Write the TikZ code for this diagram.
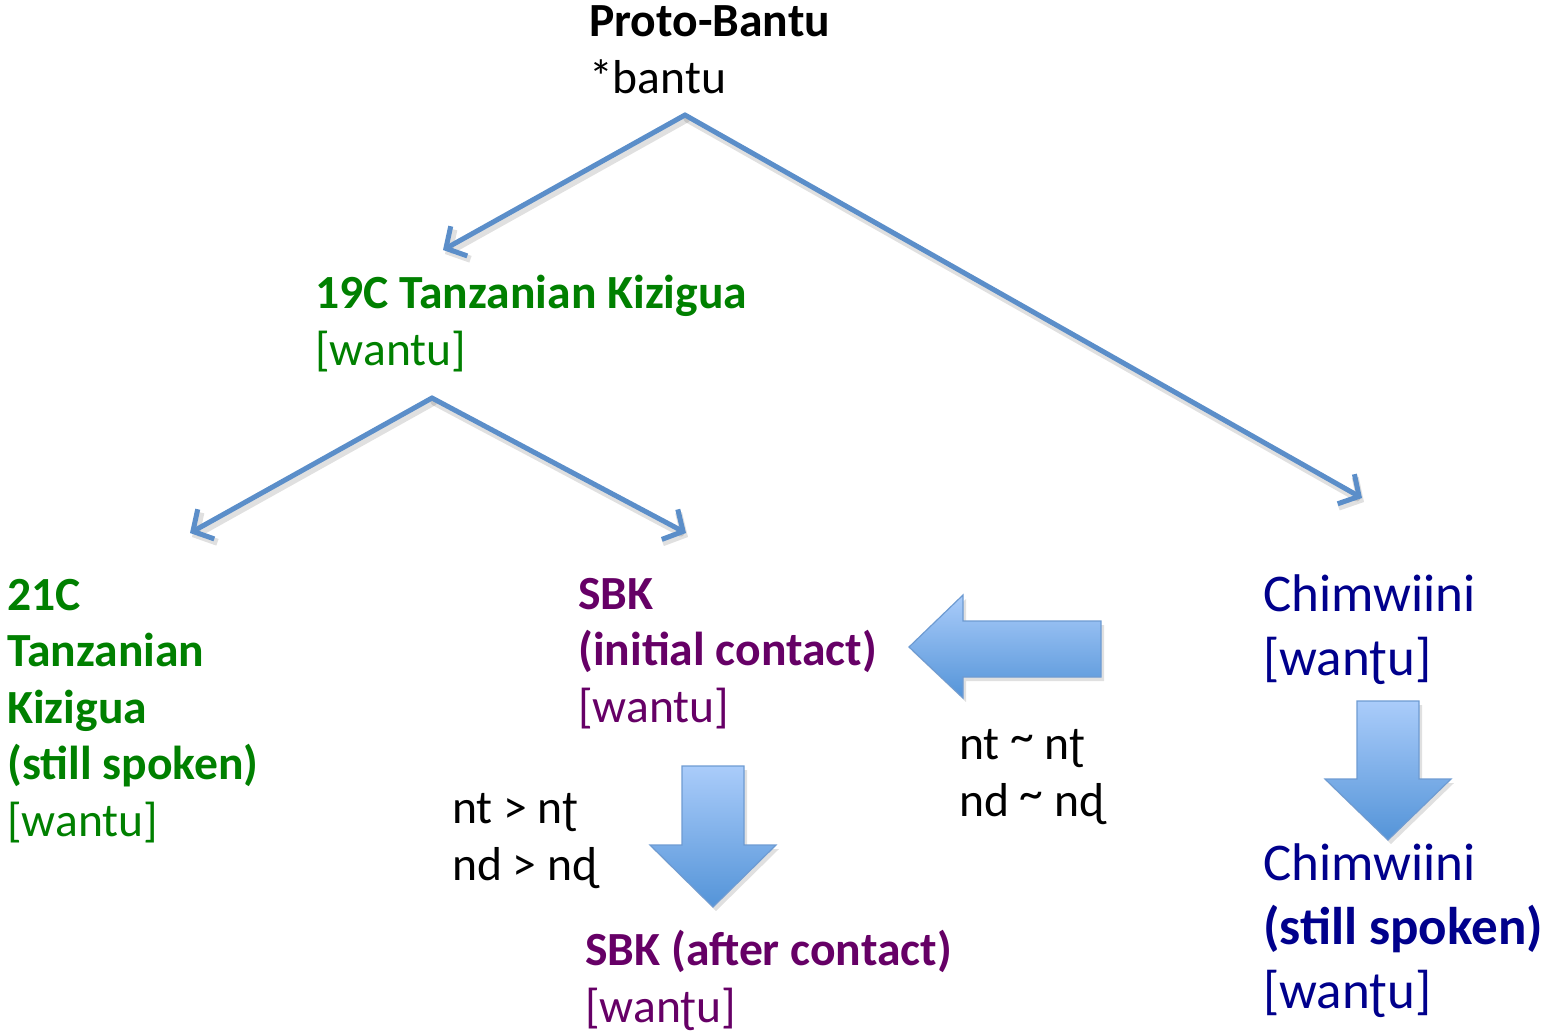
\documentclass[tikz,border=0pt]{standalone}
\usepackage{fontspec}
\setmainfont{Carlito}
\usetikzlibrary{arrows.meta}

\definecolor{kzgreen}{RGB}{0,128,0}
\definecolor{sbkpurple}{RGB}{102,0,102}
\definecolor{chnavy}{RGB}{0,0,140}
\definecolor{linkblue}{RGB}{91,142,201}
\definecolor{blocktop}{RGB}{170,204,250}
\definecolor{blockbot}{RGB}{84,148,216}
\definecolor{blockedge}{RGB}{110,155,210}

% raised tilde for "varies with"
\newcommand{\vartilde}{\raisebox{0.14em}{\char`~}}

\tikzset{
  % multi-line labels are placed by the baseline of their last line
  lbl/.style={anchor=base west, inner sep=0pt, align=left,
    font=\fontsize{47.6}{56.5}\selectfont},
  lblbig/.style={anchor=base west, inner sep=0pt, align=left,
    font=\fontsize{53}{64}\selectfont},
  conn/.style={draw=linkblue, line width=5pt, line cap=round, line join=round,
    -{Straight Barb[length=15pt,width=34pt]}},
  connshadow/.style={draw=black, opacity=0.12, line width=7pt, line cap=round,
    -{Straight Barb[length=15pt,width=34pt]}},
  blockarrow/.style={top color=blocktop, bottom color=blockbot,
    draw=blockedge, line width=1.2pt, line join=miter},
  blockshadow/.style={fill=black, opacity=0.12}
}

\begin{document}
\begin{tikzpicture}[x=1pt,y=-1pt]
\useasboundingbox (0,0) rectangle (1542,1034);

% ---- language labels ----
\node[lbl] (pb) at (589,93) {\textbf{Proto-Bantu}\\*bantu};
\node[lbl, text=kzgreen] (kz19) at (315,365) {\textbf{19C Tanzanian Kizigua}\\{[wantu]}};
\node[lbl, text=kzgreen] (kz21) at (7,836)
  {\textbf{21C}\\\textbf{Tanzanian}\\\textbf{Kizigua}\\\textbf{(still spoken)}\\{[wantu]}};
\node[lbl, text=sbkpurple] (sbk1) at (578,722)
  {\textbf{SBK}\\\textbf{(initial contact)}\\{[wantu]}};
\node[lbl, text=sbkpurple] (sbk2) at (585,1022)
  {\textbf{SBK (after contact)}\\{[wanʈu]}};
\node[lblbig, text=chnavy] (ch1) at (1263,675) {Chimwiini\\{[wanʈu]}};
\node[lblbig, text=chnavy] (ch2) at (1263,1008)
  {Chimwiini\\\textbf{(still spoken)}\\{[wanʈu]}};

% ---- sound change notes ----
\node[lbl] (chg) at (452,880) {nt > nʈ\\nd > nɖ};
\node[lbl] (var) at (959,816) {nt \vartilde{} nʈ\\nd \vartilde{} nɖ};

% ---- connector end points ----
\coordinate (pb-out) at (685,115);
\coordinate (kz19-in) at (443,250);
\coordinate (ch1-in) at (1362,498);
\coordinate (kz19-out) at (432,398);
\coordinate (kz21-in) at (190,533);
\coordinate (sbk1-in) at (686,533);

% ---- family tree connectors ----
\foreach \a/\b in {pb-out/kz19-in, pb-out/ch1-in, kz19-out/kz21-in, kz19-out/sbk1-in}{
  \draw[connshadow] ([shift={(2,4)}]\a) -- ([shift={(2,4)}]\b);
}
\draw[conn] (pb-out) -- (kz19-in);
\draw[conn] (pb-out) -- (ch1-in);
\draw[conn] (kz19-out) -- (kz21-in);
\draw[conn] (kz19-out) -- (sbk1-in);

% ---- block arrows: contact and change ----
\begin{scope}[shift={(3,4)}]
\fill[blockshadow] (1101,621) -- (963,621) -- (963,595) -- (909,647) -- (963,698) -- (963,677) -- (1101,677) -- cycle;
\fill[blockshadow] (682,766) -- (744,766) -- (744,845) -- (776,845) -- (713,907) -- (650,845) -- (682,845) -- cycle;
\fill[blockshadow] (1357,701) -- (1419,701) -- (1419,779) -- (1451,779) -- (1388,840) -- (1325,779) -- (1357,779) -- cycle;
\end{scope}
\shade[blockarrow] (1101,621) -- (963,621) -- (963,595) -- (909,647) -- (963,698) -- (963,677) -- (1101,677) -- cycle;
\shade[blockarrow] (682,766) -- (744,766) -- (744,845) -- (776,845) -- (713,907) -- (650,845) -- (682,845) -- cycle;
\shade[blockarrow] (1357,701) -- (1419,701) -- (1419,779) -- (1451,779) -- (1388,840) -- (1325,779) -- (1357,779) -- cycle;
\end{tikzpicture}
\end{document}
